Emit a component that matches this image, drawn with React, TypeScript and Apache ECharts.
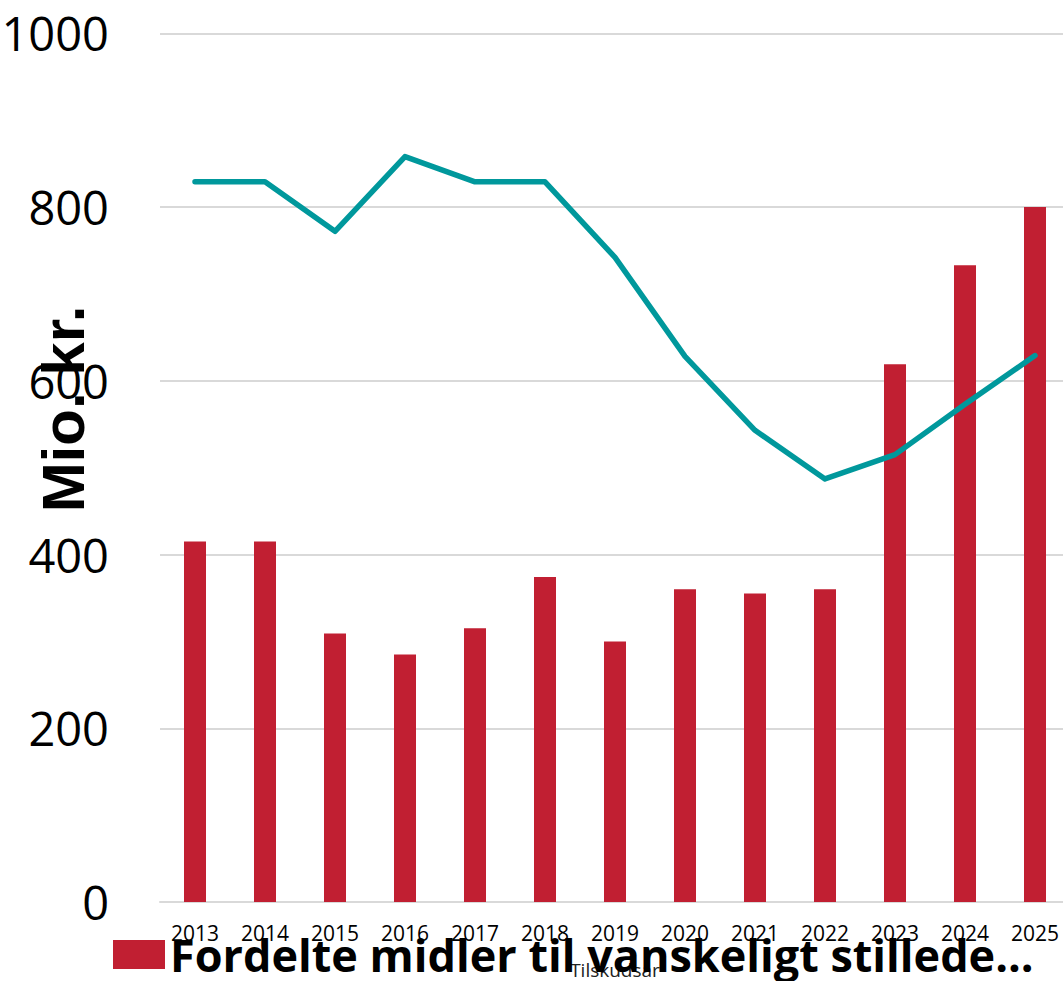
import React, { useEffect, useRef } from "react";
import * as echarts from "echarts";

const years = ["2013", "2014", "2015", "2016", "2017", "2018", "2019", "2020", "2021", "2022", "2023", "2024", "2025"];
const fordelteMidler = [415, 415, 309, 285, 315, 374, 300, 360, 355, 360, 619, 733, 800];
const linjeVaerdier = [829, 829, 772, 858, 829, 829, 742, 628, 543, 487, 515, 573, 629];
const yTicks = { min: 0, max: 1000, interval: 200 };
const barName = "Fordelte midler til vanskeligt stillede...";
const lineName = "Linje";
const yAxisTitle = "Mio. kr.";
const xAxisTitle = "Tilskudsår";

export default function App() {
  const ref = useRef<HTMLDivElement>(null);
  useEffect(() => {
    if (!ref.current) return;
    const chart = echarts.init(ref.current, null, { renderer: "svg" });
    chart.setOption({
      animation: false,
      backgroundColor: "#ffffff",
      grid: { left: 160, right: 0, top: 33.3, bottom: 79, containLabel: false, outerBoundsMode: "none" },
      legend: {
        data: [barName],
        left: 113,
        top: 932,
        padding: 0,
        itemWidth: 52,
        itemHeight: 29,
        icon: "rect",
        textStyle: { fontFamily: "Open Sans", fontWeight: "bold", fontSize: 45, color: "#000" },
      },
      xAxis: {
        type: "category",
        data: years,
        name: xAxisTitle,
        nameLocation: "middle",
        nameGap: 58,
        nameTextStyle: { fontFamily: "Open Sans", fontSize: 19, color: "#222" },
        axisLine: { lineStyle: { color: "#d9d9d9", width: 2 } },
        axisTick: { show: false },
        axisLabel: { fontFamily: "Open Sans", fontSize: 21, color: "#000", margin: 20, interval: 0 },
      },
      yAxis: {
        type: "value",
        min: yTicks.min,
        max: yTicks.max,
        interval: yTicks.interval,
        axisLine: { show: false },
        axisTick: { show: false },
        splitLine: { lineStyle: { color: "#d9d9d9", width: 2 } },
        axisLabel: {
          fontFamily: "Open Sans",
          fontSize: 47,
          color: "#000",
          margin: 51,
          formatter: (v: number) => String(v),
        },
      },
      graphic: [
        {
          type: "text",
          x: 63,
          y: 409,
          rotation: Math.PI / 2,
          style: {
            text: yAxisTitle,
            fontFamily: "Liberation Sans",
            fontWeight: "bold",
            fontSize: 60,
            fill: "#000",
            align: "center",
            verticalAlign: "middle",
          },
          z: 100,
        },
      ],
      series: [
        {
          name: barName,
          type: "bar",
          data: fordelteMidler,
          barWidth: 22,
          itemStyle: { color: "#C11F32" },
        },
        {
          name: lineName,
          type: "line",
          data: linjeVaerdier,
          symbol: "none",
          lineStyle: { color: "#00989C", width: 5.5, cap: "round", join: "round" },
          itemStyle: { color: "#00989C" },
          z: 3,
        },
      ],
    });
    return () => chart.dispose();
  }, []);
  return (
    <div style={{ position: "absolute", left: 0, top: 0, width: 1063, height: 981, overflow: "hidden" }}>
      <div ref={ref} style={{ width: 1070, height: 981 }} />
    </div>
  );
}
